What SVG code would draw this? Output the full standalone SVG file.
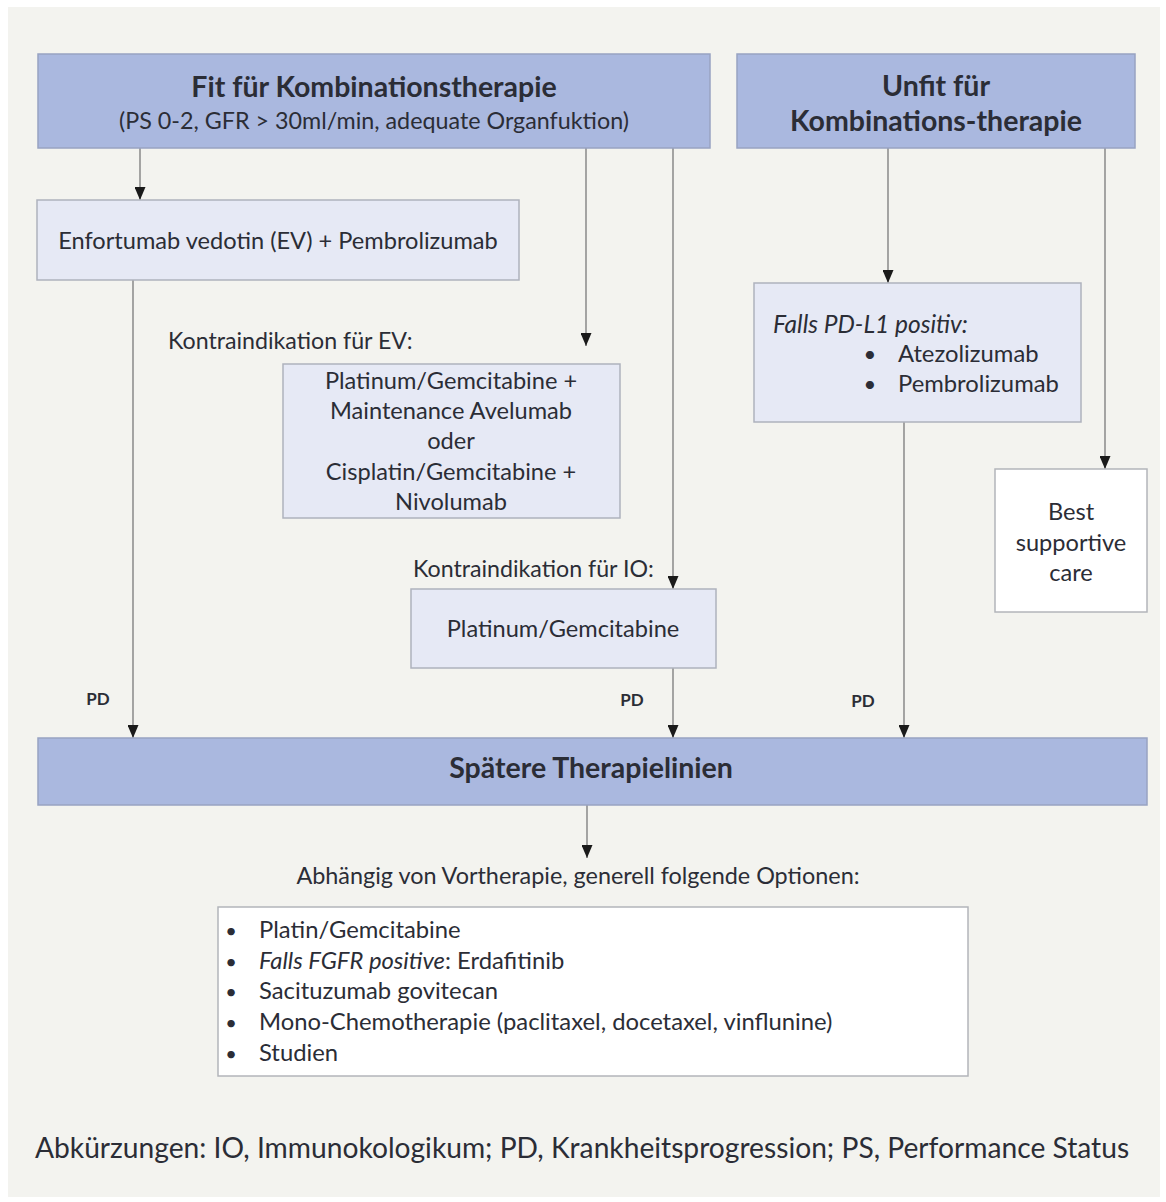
<svg xmlns="http://www.w3.org/2000/svg" width="1166" height="1202" viewBox="0 0 1166 1202">
<defs>
<marker id="ah" markerWidth="13" markerHeight="11" refX="13" refY="5.5" orient="auto" markerUnits="userSpaceOnUse" viewBox="0 0 13 11">
<path d="M0,0 L13,5.5 L0,11 Z" fill="#1a1a1a"/>
</marker>
<style>
.t{font-family:Lato,"Open Sans",sans-serif;fill:#2b2d36;}
.hd{fill:#aab8df;stroke:#98a3c2;stroke-width:1.5;}
.lt{fill:#e6e9f5;stroke:#aeb2bd;stroke-width:1.5;}
.wh{fill:#ffffff;stroke:#b3b5ba;stroke-width:1.5;}
.ln{stroke:#6f6f6f;stroke-width:1.2;fill:none;}
.b{font-weight:bold;}
.i{font-style:italic;}
</style>
</defs>
<rect x="0" y="0" width="1166" height="1202" fill="#ffffff"/>
<rect x="8" y="7" width="1152" height="1190" fill="#f3f3ef"/>

<g id="connectors">
<line class="ln" x1="140" y1="148" x2="140" y2="200" marker-end="url(#ah)"/>
<line class="ln" x1="133" y1="280" x2="133" y2="738" marker-end="url(#ah)"/>
<line class="ln" x1="586" y1="148" x2="586" y2="346" marker-end="url(#ah)"/>
<line class="ln" x1="673" y1="148" x2="673" y2="589" marker-end="url(#ah)"/>
<line class="ln" x1="673" y1="668" x2="673" y2="738" marker-end="url(#ah)"/>
<line class="ln" x1="888" y1="148" x2="888" y2="283" marker-end="url(#ah)"/>
<line class="ln" x1="904" y1="422" x2="904" y2="738" marker-end="url(#ah)"/>
<line class="ln" x1="1105" y1="148" x2="1105" y2="469" marker-end="url(#ah)"/>
<line class="ln" x1="587" y1="805" x2="587" y2="858" marker-end="url(#ah)"/>
<text class="t b" x="98" y="705" font-size="17" text-anchor="middle">PD</text>
<text class="t b" x="632" y="706" font-size="17" text-anchor="middle">PD</text>
<text class="t b" x="863" y="707" font-size="17" text-anchor="middle">PD</text>
</g>

<g id="fit">
<rect class="hd" x="38" y="54" width="672" height="94"/>
<text class="t b" x="374" y="97" font-size="28.5" text-anchor="middle">Fit für Kombinationstherapie</text>
<text class="t" x="374" y="129" font-size="23.3" text-anchor="middle">(PS 0-2, GFR &gt; 30ml/min, adequate Organfuktion)</text>
</g>

<g id="unfit">
<rect class="hd" x="737" y="54" width="398" height="94"/>
<text class="t b" x="936" y="96" font-size="28.5" text-anchor="middle">Unfit für</text>
<text class="t b" x="936" y="131" font-size="28.5" text-anchor="middle">Kombinations-therapie</text>
</g>

<g id="ev">
<rect class="lt" x="37" y="200" width="482" height="80"/>
<text class="t" x="278" y="249" font-size="23.6" text-anchor="middle">Enfortumab vedotin (EV) + Pembrolizumab</text>
</g>

<g id="ki-ev-label">
<text class="t" x="168" y="349" font-size="23.2">Kontraindikation für EV:</text>
</g>

<g id="platinum-avelumab">
<rect class="lt" x="283" y="364" width="337" height="154"/>
<text class="t" x="451" y="389" font-size="23.6" text-anchor="middle">Platinum/Gemcitabine +</text>
<text class="t" x="451" y="419" font-size="23.6" text-anchor="middle">Maintenance Avelumab</text>
<text class="t" x="451" y="449" font-size="23.6" text-anchor="middle">oder</text>
<text class="t" x="451" y="480" font-size="23.6" text-anchor="middle">Cisplatin/Gemcitabine +</text>
<text class="t" x="451" y="510" font-size="23.6" text-anchor="middle">Nivolumab</text>
</g>

<g id="ki-io-label">
<text class="t" x="413" y="577" font-size="23.2">Kontraindikation für IO:</text>
</g>

<g id="platinum-gem">
<rect class="lt" x="411" y="589" width="305" height="79"/>
<text class="t" x="563" y="637" font-size="23.6" text-anchor="middle">Platinum/Gemcitabine</text>
</g>

<g id="pdl1">
<rect class="lt" x="754" y="283" width="327" height="139"/>
<text class="t i" x="773" y="333" font-size="24.5">Falls PD-L1 positiv:</text>
<text class="t" x="870" y="362" font-size="22" text-anchor="middle">•</text>
<text class="t" x="898" y="362" font-size="23.8">Atezolizumab</text>
<text class="t" x="870" y="392" font-size="22" text-anchor="middle">•</text>
<text class="t" x="898" y="392" font-size="23.8">Pembrolizumab</text>
</g>

<g id="bsc">
<rect class="wh" x="995" y="469" width="152" height="143"/>
<text class="t" x="1071" y="520" font-size="23.6" text-anchor="middle">Best</text>
<text class="t" x="1071" y="551" font-size="23.6" text-anchor="middle">supportive</text>
<text class="t" x="1071" y="581" font-size="23.6" text-anchor="middle">care</text>
</g>

<g id="spaetere">
<rect class="hd" x="38" y="738" width="1109" height="67"/>
<text class="t b" x="591" y="778" font-size="28.5" text-anchor="middle">Spätere Therapielinien</text>
</g>

<g id="abhaengig-label">
<text class="t" x="578" y="884" font-size="23.4" text-anchor="middle">Abhängig von Vortherapie, generell folgende Optionen:</text>
</g>

<g id="options">
<rect class="wh" x="218" y="907" width="750" height="169"/>
<text class="t" x="231" y="938" font-size="20" text-anchor="middle">•</text>
<text class="t" x="259" y="938" font-size="23.8">Platin/Gemcitabine</text>
<text class="t" x="231" y="969" font-size="20" text-anchor="middle">•</text>
<text class="t" x="259" y="969" font-size="23.8"><tspan class="i">Falls FGFR positive</tspan>: Erdafitinib</text>
<text class="t" x="231" y="999" font-size="20" text-anchor="middle">•</text>
<text class="t" x="259" y="999" font-size="23.8">Sacituzumab govitecan</text>
<text class="t" x="231" y="1030" font-size="20" text-anchor="middle">•</text>
<text class="t" x="259" y="1030" font-size="23.8">Mono-Chemotherapie (paclitaxel, docetaxel, vinflunine)</text>
<text class="t" x="231" y="1061" font-size="20" text-anchor="middle">•</text>
<text class="t" x="259" y="1061" font-size="23.8">Studien</text>
</g>

<g id="footer">
<text class="t" x="35" y="1158" font-size="28.2">Abkürzungen: IO, Immunokologikum; PD, Krankheitsprogression; PS, Performance Status</text>
</g>
</svg>
